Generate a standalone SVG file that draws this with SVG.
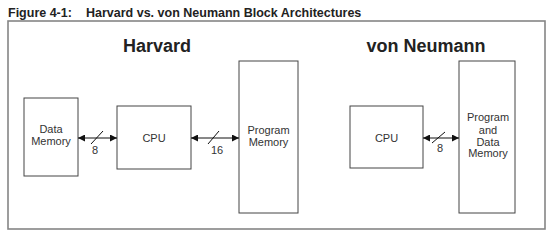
<svg xmlns="http://www.w3.org/2000/svg" width="555" height="235" viewBox="0 0 555 235">
<defs>
<marker id="ah" viewBox="0 0 10 10" refX="10" refY="5" markerWidth="7" markerHeight="7" markerUnits="userSpaceOnUse" orient="auto-start-reverse">
<path d="M0,0 L10,5 L0,10 z" fill="#111"/>
</marker>
<style>
.t{font-family:"Liberation Sans",Arial,sans-serif;fill:#222}
.title{font-size:12.5px;font-weight:bold}
.head{font-size:18px;font-weight:bold;text-anchor:middle}
.lbl{font-size:11px;text-anchor:middle;fill:#333}
.box{fill:#fff;stroke:#444;stroke-width:1}
.bus{stroke:#111;stroke-width:1;fill:none;marker-start:url(#ah);marker-end:url(#ah)}
.sl{stroke:#111;stroke-width:1}
</style>
</defs>
<rect width="555" height="235" fill="#fff"/>
<text class="t title" x="8" y="17">Figure 4-1:</text>
<text class="t title" x="86" y="17">Harvard vs. von Neumann Block Architectures</text>
<rect x="8" y="21" width="537" height="208" fill="none" stroke="#858585" stroke-width="1.6"/>
<text class="t head" x="157" y="52">Harvard</text>
<text class="t head" x="426" y="52">von Neumann</text>
<g id="data-memory">
<rect class="box" x="24" y="98" width="54" height="78"/>
<text class="t lbl" x="51" y="133">Data</text>
<text class="t lbl" x="51" y="145">Memory</text>
</g>
<g id="cpu-harvard">
<rect class="box" x="117" y="106" width="74" height="63"/>
<text class="t lbl" x="154" y="142">CPU</text>
</g>
<g id="program-memory">
<rect class="box" x="239" y="61" width="59" height="152"/>
<text class="t lbl" x="268.5" y="134">Program</text>
<text class="t lbl" x="268.5" y="146">Memory</text>
</g>
<g id="cpu-vn">
<rect class="box" x="350" y="106" width="73" height="62"/>
<text class="t lbl" x="386.5" y="142">CPU</text>
</g>
<g id="program-data-memory">
<rect class="box" x="459" y="61" width="56" height="152"/>
<text class="t lbl" x="488" y="121">Program</text>
<text class="t lbl" x="488" y="134">and</text>
<text class="t lbl" x="488" y="146">Data</text>
<text class="t lbl" x="488" y="157">Memory</text>
</g>
<g id="connectors">
<line class="bus" x1="78" y1="138" x2="117" y2="138"/>
<line class="sl" x1="91" y1="144" x2="103" y2="131"/>
<text class="t lbl" x="95" y="154">8</text>
<line class="bus" x1="191" y1="138" x2="239" y2="138"/>
<line class="sl" x1="208" y1="144" x2="219" y2="131"/>
<text class="t lbl" x="217" y="154">16</text>
<line class="bus" x1="423" y1="138" x2="459" y2="138"/>
<line class="sl" x1="432" y1="143" x2="445" y2="132"/>
<text class="t lbl" x="440" y="152">8</text>
</g>
</svg>
